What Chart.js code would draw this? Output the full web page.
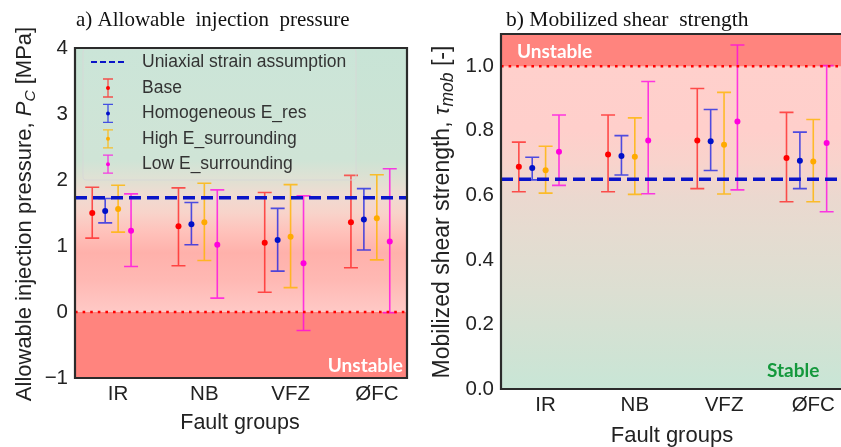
<!DOCTYPE html>
<html>
<head>
<meta charset="utf-8">
<script src="https://cdn.jsdelivr.net/npm/chart.js@4.4.1/dist/chart.umd.min.js"></script>
<style>
    html, body { margin: 0; padding: 0; background: #fff; overflow: hidden; }
    body { width: 841px; height: 447px; position: relative; }
    .panel { position: absolute; top: 0; height: 447px; }
    #panelA { left: 0; width: 420px; }
    #panelB { left: 420px; width: 430px; }
</style>
</head>
<body>
<div class="panel" id="panelA"><canvas id="chartA"></canvas></div>
<div class="panel" id="panelB"><canvas id="chartB"></canvas></div>
<script>
// Data
const groups = ['IR', 'NB', 'VFZ', '\u00D8FC'];
const seriesNames = ['Base', 'Homogeneous E_res', 'High E_surrounding', 'Low E_surrounding'];
const groupOffsets = [-0.3, -0.15, 0, 0.15];

// a) allowable injection pressure [MPa]; rows = series, columns = groups
const pcMean = [
    [1.50, 1.30, 1.05, 1.36],
    [1.53, 1.33, 1.09, 1.40],
    [1.56, 1.36, 1.14, 1.42],
    [1.23, 1.02, 0.74, 1.07]
];
const pcLow = [
    [1.12, 0.70, 0.30, 0.67],
    [1.35, 1.02, 0.62, 0.94],
    [1.21, 0.78, 0.37, 0.79],
    [0.69, 0.21, -0.28, -0.01]
];
const pcHigh = [
    [1.89, 1.88, 1.81, 2.07],
    [1.72, 1.66, 1.57, 1.87],
    [1.92, 1.95, 1.93, 2.08],
    [1.79, 1.85, 1.76, 2.17]
];
const pcUniaxial = 1.73;
const pcCritical = 0;
const pcTicks = [-1, 0, 1, 2, 3, 4];

// b) mobilized shear strength [-]
const tauMean = [
    [0.689, 0.727, 0.770, 0.716],
    [0.685, 0.722, 0.768, 0.707],
    [0.678, 0.720, 0.757, 0.705],
    [0.735, 0.770, 0.829, 0.762]
];
const tauLow = [
    [0.611, 0.611, 0.621, 0.580],
    [0.648, 0.663, 0.677, 0.621],
    [0.607, 0.603, 0.604, 0.580],
    [0.631, 0.605, 0.617, 0.549]
];
const tauHigh = [
    [0.765, 0.849, 0.931, 0.857],
    [0.718, 0.785, 0.866, 0.796],
    [0.752, 0.840, 0.919, 0.835],
    [0.849, 0.953, 1.066, 1.002]
];
const tauUniaxial = 0.65;
const tauCritical = 1.0;
const tauTicks = [0, 0.2, 0.4, 0.6, 0.8, 1.0];

const xMin = -0.5, xMax = 3.35;

// Styles
const barColors = ['rgba(255,30,30,0.75)', 'rgba(20,30,230,0.75)', 'rgba(255,180,0,0.8)', 'rgba(255,0,230,0.75)'];
const dotColors = ['#ff0000', '#0010c8', '#ffaa00', '#ff00dd'];
const SANS = '"Liberation Sans", Arial, sans-serif';
const SERIF = '"Liberation Serif", "Times New Roman", serif';
const TEXT = '#222222';

// gradient stops: [value, colour]
const bgStopsA = [[4, '#c8e4d6'], [2.3, '#cde3d4'], [2.0, '#dfe0d2'], [1.8, '#eedcd2'], [1.5, '#f8d3ca'],
    [1.2, '#ffc1ba'], [0.9, '#ffb1ab'], [0.5, '#ffb8b3'], [0, '#ffc9c6']];
const bgStopsB = [[1.0, '#ffd0cc'], [0.8, '#ffcfcb'], [0.7, '#f8d3cc'], [0.6, '#ebd8cf'], [0.5, '#e6dbd0'],
    [0.3, '#dcdfd2'], [0.1, '#cfe3d4'], [0, '#c8e6d6']];
const unstableFill = '#ff847e';

function buildDatasets(mean, low, high, uniaxial, critical) {
    const sets = seriesNames.map((name, s) => ({
        label: name,
        data: groups.map((g, i) => ({ x: i + groupOffsets[s], y: mean[s][i] })),
        errLow: low[s],
        errHigh: high[s],
        barColor: barColors[s],
        backgroundColor: dotColors[s],
        borderColor: dotColors[s],
        pointRadius: 3,
        pointBorderWidth: 0,
        order: 2
    }));
    sets.push({
        type: 'line', label: 'Uniaxial strain assumption',
        data: [{ x: xMin, y: uniaxial }, { x: xMax, y: uniaxial }],
        borderColor: '#0a14c8', borderWidth: 3.6, borderDash: [12, 6], pointRadius: 0, order: 0
    });
    sets.push({
        type: 'line', label: 'critical',
        data: [{ x: xMin, y: critical }, { x: xMax, y: critical }],
        borderColor: '#ff0000', borderWidth: 2.6, borderDash: [2.6, 5], borderCapStyle: 'butt', pointRadius: 0, order: 1
    });
    return sets;
}

// (EN) Error bars under the points
const errorBarPlugin = {
    id: 'errorBars',
    beforeDatasetsDraw(chart) {
        const ctx = chart.ctx, xs = chart.scales.x, ys = chart.scales.y, a = chart.chartArea;
        ctx.save();
        ctx.beginPath();
        ctx.rect(a.left, a.top, a.right - a.left, a.bottom - a.top);
        ctx.clip();
        chart.data.datasets.forEach(ds => {
            if (!ds.errLow) return;
            ctx.strokeStyle = ds.barColor;
            ctx.lineWidth = 1.6;
            ds.data.forEach((p, j) => {
                const x = xs.getPixelForValue(p.x);
                const y1 = ys.getPixelForValue(ds.errLow[j]);
                const y2 = ys.getPixelForValue(ds.errHigh[j]);
                ctx.beginPath();
                ctx.moveTo(x, y1); ctx.lineTo(x, y2);
                ctx.moveTo(x - 7, y1); ctx.lineTo(x + 7, y1);
                ctx.moveTo(x - 7, y2); ctx.lineTo(x + 7, y2);
                ctx.stroke();
            });
        });
        ctx.restore();
    }
};

// (EN) Background bands
function backgroundPlugin(stops, unstableFrom, unstableTo) {
    return {
        id: 'bands',
        beforeDatasetsDraw(chart) {
            const ctx = chart.ctx, ys = chart.scales.y, a = chart.chartArea;
            const h = a.bottom - a.top;
            const g = ctx.createLinearGradient(0, a.top, 0, a.bottom);
            stops.forEach(([v, c]) => {
                g.addColorStop(Math.min(1, Math.max(0, (ys.getPixelForValue(v) - a.top) / h)), c);
            });
            ctx.save();
            ctx.fillStyle = g;
            ctx.fillRect(a.left, a.top, a.right - a.left, h);
            const u1 = ys.getPixelForValue(unstableFrom), u2 = ys.getPixelForValue(unstableTo);
            ctx.fillStyle = unstableFill;
            ctx.fillRect(a.left, Math.min(u1, u2), a.right - a.left, Math.abs(u2 - u1));
            ctx.restore();
        }
    };
}

// (EN) Text with italic / subscript parts
function drawRich(ctx, parts, cx, cy, rotated) {
    ctx.save();
    ctx.translate(cx, cy);
    if (rotated) ctx.rotate(-Math.PI / 2);
    let total = 0;
    parts.forEach(p => { ctx.font = p.font; p.w = ctx.measureText(p.text).width; total += p.w; });
    let x = -total / 2;
    ctx.fillStyle = TEXT;
    ctx.textBaseline = 'alphabetic';
    parts.forEach(p => { ctx.font = p.font; ctx.fillText(p.text, x, p.dy || 0); x += p.w; });
    ctx.restore();
}

function drawFrame(ctx, a, sides) {
    ctx.save();
    ctx.strokeStyle = '#2b2b2b';
    ctx.lineWidth = 2.2;
    ctx.beginPath();
    ctx.moveTo(a.right, a.top); ctx.lineTo(a.left, a.top); ctx.lineTo(a.left, a.bottom); ctx.lineTo(a.right, a.bottom);
    if (sides === 4) ctx.closePath();
    ctx.stroke();
    ctx.restore();
}

const decorA = {
    id: 'decorA',
    afterDatasetsDraw(chart) {
        const ctx = chart.ctx, a = chart.chartArea;
        // legend
        ctx.save();
        ctx.fillStyle = 'rgba(255,255,255,0.06)';
        ctx.strokeStyle = 'rgba(215,215,215,0.9)';
        ctx.lineWidth = 1;
        ctx.beginPath();
        ctx.roundRect(83, 49, 273, 131, 3);
        ctx.fill(); ctx.stroke();
        ctx.strokeStyle = '#0a14c8'; ctx.lineWidth = 2; ctx.setLineDash([6, 3]);
        ctx.beginPath(); ctx.moveTo(91, 62); ctx.lineTo(127, 62); ctx.stroke();
        ctx.setLineDash([]);
        ctx.font = '17.5px ' + SANS; ctx.fillStyle = '#333'; ctx.textBaseline = 'middle';
        ctx.fillText('Uniaxial strain assumption', 142, 62);
        seriesNames.forEach((n, s) => {
            const y = 88 + s * 25.4, x = 108;
            ctx.strokeStyle = barColors[s]; ctx.lineWidth = 1.3;
            ctx.beginPath();
            ctx.moveTo(x, y - 9); ctx.lineTo(x, y + 9);
            ctx.moveTo(x - 5, y - 9); ctx.lineTo(x + 5, y - 9);
            ctx.moveTo(x - 5, y + 9); ctx.lineTo(x + 5, y + 9);
            ctx.stroke();
            ctx.fillStyle = dotColors[s];
            ctx.beginPath(); ctx.arc(x, y, 2, 0, Math.PI * 2); ctx.fill();
            ctx.fillStyle = '#333';
            ctx.fillText(n, 142, y);
        });
        ctx.font = 'bold 19px Lato, "Open Sans", sans-serif';
        ctx.fillStyle = '#ffffff'; ctx.textAlign = 'right';
        ctx.fillText('Unstable', a.right - 4, 366);
        ctx.restore();
    },
    afterDraw(chart) {
        const ctx = chart.ctx;
        drawFrame(ctx, chart.chartArea, 4);
        ctx.save();
        ctx.font = '21px ' + SERIF; ctx.fillStyle = '#111'; ctx.textBaseline = 'alphabetic';
        ctx.fillText('a) Allowable  injection  pressure', 76, 26);
        ctx.restore();
        drawRich(ctx, [
            { text: 'Allowable injection pressure, ', font: '22px ' + SANS },
            { text: 'P', font: 'italic 22px ' + SANS },
            { text: 'C', font: 'italic 15.5px ' + SANS, dy: 4 },
            { text: ' [MPa]', font: '22px ' + SANS }
        ], 31, 214, true);
        drawRich(ctx, [{ text: 'Fault groups', font: '21.5px ' + SANS }], 240, 429, false);
    }
};

const decorB = {
    id: 'decorB',
    afterDatasetsDraw(chart) {
        const ctx = chart.ctx;
        ctx.save();
        ctx.font = 'bold 19px Lato, "Open Sans", sans-serif';
        ctx.textBaseline = 'middle';
        ctx.fillStyle = '#ffffff';
        ctx.fillText('Unstable', 97, 52);
        ctx.fillStyle = '#14983c';
        ctx.fillText('Stable', 347, 371);
        ctx.restore();
    },
    afterDraw(chart) {
        const ctx = chart.ctx;
        drawFrame(ctx, chart.chartArea, 3);
        ctx.save();
        ctx.font = '21.5px ' + SERIF; ctx.fillStyle = '#111'; ctx.textBaseline = 'alphabetic';
        ctx.fillText('b) Mobilized shear  strength', 86, 26);
        ctx.restore();
        drawRich(ctx, [
            { text: 'Mobilized shear strength, ', font: '23px ' + SANS },
            { text: '\u03C4', font: 'italic 23px ' + SANS },
            { text: 'mob', font: 'italic 17.5px ' + SANS, dy: 4 },
            { text: ' [-]', font: '23px ' + SANS }
        ], 29, 212, true);
        drawRich(ctx, [{ text: 'Fault groups', font: '22px ' + SANS }], 252, 442, false);
    }
};

function makeOptions(yMin, yMax, yTicks, yFmt, yWidth, xHeight, pad) {
    return {
        responsive: true,
        maintainAspectRatio: false,
        animation: false,
        layout: { padding: pad },
        plugins: { legend: { display: false }, tooltip: { enabled: false } },
        scales: {
            x: {
                type: 'linear', min: xMin, max: xMax,
                grid: { display: false, drawTicks: false },
                border: { display: false },
                afterBuildTicks: s => { s.ticks = groups.map((g, i) => ({ value: i })); },
                afterFit: s => { s.height = xHeight; },
                ticks: {
                    padding: 4, color: TEXT, maxRotation: 0, autoSkip: false,
                    font: { family: SANS, size: 20.5 },
                    callback: v => groups[v]
                }
            },
            y: {
                min: yMin, max: yMax,
                grid: { display: false, drawTicks: false },
                border: { display: false },
                afterBuildTicks: s => { s.ticks = yTicks.map(v => ({ value: v })); },
                afterFit: s => { s.width = yWidth; },
                ticks: {
                    padding: 7, color: TEXT,
                    font: { family: SANS, size: 20.5 },
                    callback: yFmt
                }
            }
        }
    };
}

new Chart(document.getElementById('chartA'), {
    type: 'scatter',
    data: { datasets: buildDatasets(pcMean, pcLow, pcHigh, pcUniaxial, pcCritical) },
    options: makeOptions(-1, 4, pcTicks, v => (v < 0 ? '\u2212' + Math.abs(v) : String(v)), 75, 69,
        { top: 48, right: 13, left: 0, bottom: 0 }),
    plugins: [backgroundPlugin(bgStopsA, -1, pcCritical), errorBarPlugin, decorA]
});

new Chart(document.getElementById('chartB'), {
    type: 'scatter',
    data: { datasets: buildDatasets(tauMean, tauLow, tauHigh, tauUniaxial, tauCritical) },
    options: makeOptions(0, 1.1, tauTicks, v => v.toFixed(1), 81, 58,
        { top: 34, right: 5.5, left: 0, bottom: 0 }),
    plugins: [backgroundPlugin(bgStopsB, tauCritical, 1.1), errorBarPlugin, decorB]
});
</script>
</body>
</html>
